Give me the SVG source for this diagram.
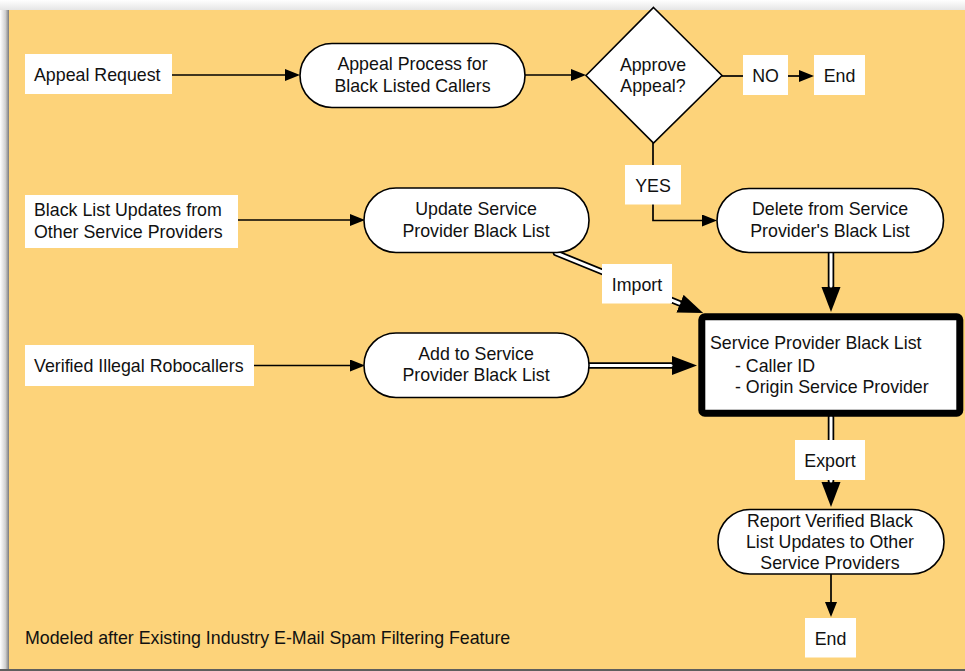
<svg xmlns="http://www.w3.org/2000/svg" width="965" height="671" viewBox="0 0 965 671">
  <defs>
    <linearGradient id="shadeLeft" x1="0" y1="0" x2="1" y2="0">
      <stop offset="0" stop-color="#ffffff"/>
      <stop offset="0.6" stop-color="#d0d0d0"/>
      <stop offset="1" stop-color="#7a7a7a"/>
    </linearGradient>
    <linearGradient id="shadeTop" x1="0" y1="0" x2="0" y2="1">
      <stop offset="0" stop-color="#ffffff"/>
      <stop offset="1" stop-color="#e6e6e6"/>
    </linearGradient>
    <marker id="arrow" markerUnits="userSpaceOnUse" markerWidth="16" markerHeight="14" refX="0" refY="6" orient="auto">
      <path d="M0,0 L15,6 L0,12 z" fill="#000"/>
    </marker>
    <marker id="bigArrow" markerUnits="userSpaceOnUse" markerWidth="26" markerHeight="20" refX="0" refY="9.5" orient="auto">
      <path d="M0,0 L25,9.5 L0,19 z" fill="#000"/>
    </marker>
    <style>
      text { font-family: "Liberation Sans", Arial, Helvetica, sans-serif; font-size: 17.8px; fill: #111; }
      .c { text-anchor: middle; }
      .label { fill: #ffffff; }
      .pill { fill: #ffffff; stroke: #000; stroke-width: 1.6; }
      .flow { fill: none; stroke: #000; stroke-width: 1.7; }
      .pipeOuter { fill: none; stroke: #000; stroke-width: 6.5; stroke-linecap: round; }
      .pipeInner { fill: none; stroke: #fff; stroke-width: 3; stroke-linecap: round; }
    </style>
  </defs>

  <!-- page background and panel -->
  <rect x="0" y="0" width="965" height="671" fill="#ffffff"/>
  <rect x="0" y="0" width="965" height="10" fill="url(#shadeTop)"/>
  <rect x="0" y="10" width="9" height="661" fill="url(#shadeLeft)"/>
  <rect x="9" y="10" width="956" height="659" fill="#FDD37A"/>
  <rect x="0" y="669" width="965" height="2" fill="#5e5e5e"/>

  <!-- connectors -->
  <g id="connectors">
    <path class="flow" d="M172,75 H285" marker-end="url(#arrow)"/>
    <path class="flow" d="M525,75 H571" marker-end="url(#arrow)"/>
    <path class="flow" d="M722,76 H743"/>
    <path class="flow" d="M788,76 H799" marker-end="url(#arrow)"/>
    <path class="flow" d="M653,143 V165"/>
    <path class="flow" d="M653,204 V220.5 H702" marker-end="url(#arrow)"/>
    <path class="flow" d="M238,220 H350" marker-end="url(#arrow)"/>
    <path class="flow" d="M254,365.5 H350" marker-end="url(#arrow)"/>
    <path class="flow" d="M831,574 V602" marker-end="url(#arrow)"/>

    <!-- double-line transfers -->
    <path class="pipeOuter" d="M831,253 V287" marker-end="url(#bigArrow)"/>
    <path class="pipeInner" d="M831,253 V286"/>

    <path class="pipeOuter" d="M556,253 L680,303.6" marker-end="url(#bigArrow)"/>
    <path class="pipeInner" d="M556,253 L679,303.2"/>

    <path class="pipeOuter" d="M589,365.5 H672" marker-end="url(#bigArrow)"/>
    <path class="pipeInner" d="M589,365.5 H671"/>

    <path class="pipeOuter" d="M831,417 V482" marker-end="url(#bigArrow)"/>
    <path class="pipeInner" d="M831,417 V481"/>
  </g>

  <!-- nodes -->
  <g id="appeal-request">
    <rect class="label" x="25" y="54" width="147" height="40"/>
    <text x="34" y="81">Appeal Request</text>
  </g>

  <g id="appeal-process">
    <rect class="pill" x="300" y="43.5" width="225" height="64" rx="32"/>
    <text class="c" x="412.5" y="70">Appeal Process for</text>
    <text class="c" x="412.5" y="92">Black Listed Callers</text>
  </g>

  <g id="approve-appeal">
    <polygon class="pill" points="653.5,7.5 722,75.5 653.5,143 586,75.5"/>
    <text class="c" x="653" y="71">Approve</text>
    <text class="c" x="653" y="92">Appeal?</text>
  </g>

  <g id="no-label">
    <rect class="label" x="743" y="55" width="45" height="40"/>
    <text class="c" x="765.5" y="82">NO</text>
  </g>

  <g id="end-top">
    <rect class="label" x="814" y="55" width="51" height="40"/>
    <text class="c" x="839.5" y="82">End</text>
  </g>

  <g id="yes-label">
    <rect class="label" x="625" y="165" width="56" height="39.5"/>
    <text class="c" x="653" y="192">YES</text>
  </g>

  <g id="delete-from-list">
    <rect class="pill" x="717" y="188.5" width="226.5" height="64" rx="32"/>
    <text class="c" x="830" y="215">Delete from Service</text>
    <text class="c" x="830" y="237">Provider's Black List</text>
  </g>

  <g id="updates-from-providers">
    <rect class="label" x="25" y="195" width="213" height="53"/>
    <text x="34" y="216">Black List Updates from</text>
    <text x="34" y="238">Other Service Providers</text>
  </g>

  <g id="update-list">
    <rect class="pill" x="364" y="188" width="225" height="64.5" rx="32"/>
    <text class="c" x="476" y="215">Update Service</text>
    <text class="c" x="476" y="237">Provider Black List</text>
  </g>

  <g id="import-label">
    <rect class="label" x="602" y="264" width="70" height="39.5"/>
    <text class="c" x="637" y="291">Import</text>
  </g>

  <g id="verified-robocallers">
    <rect class="label" x="25" y="345" width="229" height="41"/>
    <text x="34" y="372">Verified Illegal Robocallers</text>
  </g>

  <g id="add-to-list">
    <rect class="pill" x="364" y="333" width="225" height="64.5" rx="32"/>
    <text class="c" x="476" y="360">Add to Service</text>
    <text class="c" x="476" y="381">Provider Black List</text>
  </g>

  <g id="black-list">
    <rect x="701.8" y="316.8" width="258" height="96.4" rx="3" fill="#fff" stroke="#000" stroke-width="7"/>
    <text x="710" y="349">Service Provider Black List</text>
    <text x="735" y="371.5">- Caller ID</text>
    <text x="735" y="392.5">- Origin Service Provider</text>
  </g>

  <g id="export-label">
    <rect class="label" x="795" y="440" width="70" height="40"/>
    <text class="c" x="830" y="467">Export</text>
  </g>

  <g id="report-updates">
    <rect class="pill" x="718" y="509.5" width="226" height="64.5" rx="32"/>
    <text class="c" x="830" y="527">Report Verified Black</text>
    <text class="c" x="830" y="548">List Updates to Other</text>
    <text class="c" x="830" y="569">Service Providers</text>
  </g>

  <g id="end-bottom">
    <rect class="label" x="805" y="618" width="51" height="39.5"/>
    <text class="c" x="830.5" y="645">End</text>
  </g>

  <g id="footnote">
    <text x="25" y="644">Modeled after Existing Industry E-Mail Spam Filtering Feature</text>
  </g>
</svg>
